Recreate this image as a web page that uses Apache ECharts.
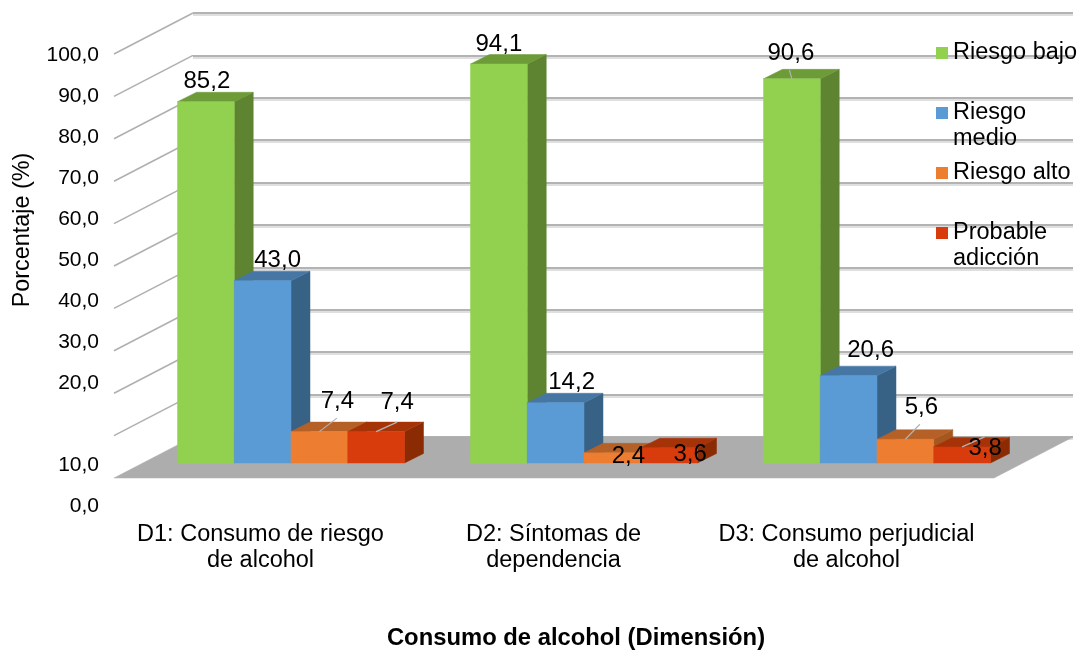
<!DOCTYPE html>
<html>
<head>
<meta charset="utf-8">
<title>Consumo de alcohol</title>
<script src="https://cdn.jsdelivr.net/npm/echarts@6/dist/echarts.min.js"></script>
<style>
  html, body { margin: 0; padding: 0; background: #fff; }
  #chart { width: 1085px; height: 652px; }
</style>
</head>
<body>
<div id="chart"></div>
<script>
const dimensions = ['D1: Consumo de riesgo\nde alcohol', 'D2: Síntomas de\ndependencia', 'D3: Consumo perjudicial\nde alcohol'];
const seriesNames = ['Riesgo bajo', 'Riesgo medio', 'Riesgo alto', 'Probable adicción'];
const riesgoBajo = [85.2, 94.1, 90.6];
const riesgoMedio = [43.0, 14.2, 20.6];
const riesgoAlto = [7.4, 2.4, 5.6];
const probableAdiccion = [7.4, 3.6, 3.8];
const seriesValues = [riesgoBajo, riesgoMedio, riesgoAlto, probableAdiccion];

// the source chart skips a slot between 10,0 and 20,0
const tickLabels = ['0,0', '10,0', '', '20,0', '30,0', '40,0', '50,0', '60,0', '70,0', '80,0', '90,0', '100,0'];
const gridValues = [0, 10, 20, 30, 40, 50, 60, 70, 80, 90, 100];

const frontColors = ['#92d050', '#5b9bd5', '#ed7d31', '#d83c0c'];
const topColors = ['#6c9b38', '#4676a3', '#b56027', '#a63308'];
const sideColors = ['#5f8431', '#386285', '#a5571f', '#8a2b04'];

// label position relative to the top centre of the bar front, per series then per dimension
const labelOffsets = [
  [[1, -20], [0, -20], [-1, -25]],
  [[15, -20], [16, -20], [22, -25]],
  [[18, -30], [16, 4], [16, -32]],
  [[21, -29], [21, 7], [23, 1]]
];
// leader line ends, same indexing; null when the label has no leader
const leaderEnds = [
  [null, null, [-2.5, -9]],
  [null, null, null],
  [[17.5, -13.5], null, [14.5, -15]],
  [[21, -9.5], null, [22.5, -10]]
];

const fontFamily = '"Liberation Sans", Arial, sans-serif';
const textColor = '#000';
const wallDepth = [-79, 41];
const barDepth = [19, -9.5];
const barShift = [30.5, -15];
const barShare = 0.1937;

const polygon = (points, fill, z2) => ({
  type: 'polygon',
  z2: z2,
  shape: { points: points },
  style: { fill: fill, stroke: fill, lineWidth: 0.5 }
});

const renderWalls = (params, api) => {
  const v = api.value(0);
  const back = api.coord([0, v]);
  const children = [];
  if (v === 0) {
    const backRight = api.coord([1, 0]);
    children.push(polygon([
      back,
      backRight,
      [backRight[0] + wallDepth[0], backRight[1] + wallDepth[1]],
      [back[0] + wallDepth[0], back[1] + wallDepth[1]]
    ], '#adadad', 0));
  } else {
    children.push({
      type: 'line',
      shape: { x1: back[0] + wallDepth[0], y1: back[1] + wallDepth[1], x2: back[0], y2: back[1] },
      style: { stroke: '#b0b0b0', lineWidth: 1.6 }
    });
  }
  return { type: 'group', children: children };
};

const makeBarRenderer = (s) => (params, api) => {
  const cat = api.value(0);
  const val = api.value(1);
  const w = api.size([1, 0])[0] * barShare;
  const center = api.coord([cat, 0])[0] + barShift[0];
  const x0 = center + (s - 2) * w;
  const x1 = x0 + w;
  const yBase = api.coord([cat, 0])[1] + barShift[1];
  const yTop = api.coord([cat, val])[1] + barShift[1];
  const midX = (x0 + x1) / 2;
  const offset = labelOffsets[s][cat];
  const leader = leaderEnds[s][cat];
  const children = [
    polygon([[x1, yBase], [x1 + barDepth[0], yBase + barDepth[1]], [x1 + barDepth[0], yTop + barDepth[1]], [x1, yTop]], sideColors[s], s + 1),
    polygon([[x0, yTop], [x1, yTop], [x1 + barDepth[0], yTop + barDepth[1]], [x0 + barDepth[0], yTop + barDepth[1]]], topColors[s], s + 1),
    polygon([[x0, yBase], [x1, yBase], [x1, yTop], [x0, yTop]], frontColors[s], s + 1)
  ];
  if (leader) {
    children.push({
      type: 'line',
      z2: 20,
      shape: { x1: midX, y1: yTop, x2: midX + leader[0], y2: yTop + leader[1] },
      style: { stroke: '#b3b3b3', lineWidth: 1.2 }
    });
  }
  children.push({
    type: 'text',
    z2: 30,
    x: midX + offset[0],
    y: yTop + offset[1],
    style: {
      text: val.toFixed(1).replace('.', ','),
      fill: textColor,
      font: '24px ' + fontFamily,
      align: 'center',
      verticalAlign: 'middle'
    }
  });
  return { type: 'group', children: children };
};

const chart = echarts.init(document.getElementById('chart'));

const option = {
  animation: false,
  backgroundColor: '#fff',
  textStyle: { fontFamily: fontFamily },
  title: {
    text: 'Consumo de alcohol (Dimensión)',
    left: 576,
    top: 626,
    textAlign: 'center',
    padding: 0,
    textStyle: { fontSize: 23.8, fontWeight: 'bold', color: textColor, fontFamily: fontFamily }
  },
  legend: {
    orient: 'vertical',
    left: 936,
    top: 14,
    padding: 0,
    itemGap: -18,
    itemWidth: 12,
    itemHeight: 12,
    icon: 'rect',
    selectedMode: false,
    data: seriesNames,
    // three lines per item so the marker lines up with the first line of the name
    formatter: (name) => {
      const lines = { 'Riesgo medio': 'Riesgo\nmedio', 'Probable adicción': 'Probable\nadicción' };
      return '\n' + (lines[name] || name + '\n ');
    },
    textStyle: { fontSize: 23.5, lineHeight: 26, color: textColor, fontFamily: fontFamily }
  },
  grid: [
    { left: 114, width: 879, top: 54, height: 424, outerBoundsMode: 'none' },
    { left: 114, width: 879, top: 55, height: 451, outerBoundsMode: 'none' },
    { left: 193, width: 880, top: 13, height: 424, outerBoundsMode: 'none' }
  ],
  xAxis: [
    {
      gridIndex: 0,
      type: 'category',
      data: dimensions,
      axisLine: { show: false },
      axisTick: { show: false },
      axisLabel: { margin: 44, fontSize: 23.5, lineHeight: 26, color: textColor, interval: 0 }
    },
    { gridIndex: 1, type: 'value', show: false },
    { gridIndex: 2, type: 'value', min: 0, max: 1, show: false }
  ],
  yAxis: [
    { gridIndex: 0, type: 'value', min: 0, max: 100, show: false },
    {
      gridIndex: 1,
      type: 'category',
      boundaryGap: false,
      data: tickLabels,
      axisLine: { show: false },
      axisTick: { show: false },
      splitLine: { show: false },
      axisLabel: { margin: 15, fontSize: 21, color: textColor, interval: 0 }
    },
    {
      gridIndex: 2,
      type: 'value',
      min: 0,
      max: 100,
      interval: 10,
      name: 'Porcentaje (%)',
      nameLocation: 'middle',
      nameRotate: 90,
      nameGap: 159,
      nameTextStyle: { fontSize: 23.4, color: textColor, fontFamily: fontFamily, padding: [0, 10, 0, 0] },
      axisLine: { show: false },
      axisTick: { show: false },
      axisLabel: { show: false },
      splitLine: {
        show: true,
        lineStyle: { color: '#9a9a9a', width: 1.5, shadowColor: '#d4d4d4', shadowOffsetY: 2, shadowBlur: 0 }
      }
    }
  ],
  series: [
    {
      type: 'custom',
      name: 'walls',
      xAxisIndex: 2,
      yAxisIndex: 2,
      z: 1,
      silent: true,
      clip: false,
      renderItem: renderWalls,
      encode: { y: 0 },
      data: gridValues.map(v => [v])
    },
    ...seriesNames.map((name, s) => ({
      type: 'custom',
      name: name,
      xAxisIndex: 0,
      yAxisIndex: 0,
      clip: false,
      itemStyle: { color: frontColors[s] },
      renderItem: makeBarRenderer(s),
      encode: { x: 0, y: 1 },
      data: seriesValues[s].map((v, i) => [i, v])
    }))
  ]
};

chart.setOption(option);

window.addEventListener('resize', () => chart.resize());
</script>
</body>
</html>
